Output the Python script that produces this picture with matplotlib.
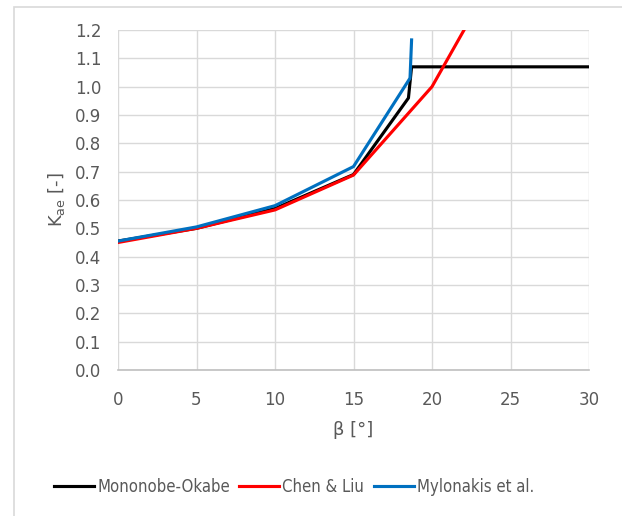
import matplotlib
matplotlib.use("Agg")
import matplotlib.pyplot as plt
from matplotlib.patches import Rectangle

# datos
beta_mo = [0, 5, 10, 15, 18.5, 18.7, 30]
kae_mo = [0.455, 0.50, 0.57, 0.69, 0.96, 1.07, 1.07]

beta_cl = [0, 5, 10, 15, 20, 25]
kae_cl = [0.45, 0.50, 0.565, 0.688, 1.0, 1.49]

beta_my = [0, 5, 10, 15, 18.6, 18.7]
kae_my = [0.455, 0.505, 0.58, 0.718, 1.03, 1.165]

gris = "#595959"
plt.rcParams['font.family'] = ['DejaVu Sans']

fig = plt.figure(figsize=(6.22, 5.16), dpi=100)
# marco exterior del grafico
fig.patches.append(Rectangle((14/622, -0.1), 1.0, (516-7)/516 + 0.1, transform=fig.transFigure,
                             fill=False, edgecolor="#D9D9D9", lw=1.2))
ax = fig.add_axes([118/622, 1-370/516, (589-118)/622, (370-30)/516])

ax.plot(beta_mo, kae_mo, color="black", lw=2.25, label="Mononobe-Okabe", zorder=3)
ax.plot(beta_cl, kae_cl, color="#FF0000", lw=2.25, label="Chen & Liu", zorder=3)
ax.plot(beta_my, kae_my, color="#0070C0", lw=2.25, label="Mylonakis et al.", zorder=3)

ax.set_xlim(0, 30)
ax.set_ylim(0, 1.2)
ax.set_xticks(range(0, 31, 5))
ax.set_yticks([i/10 for i in range(13)])
ax.set_yticklabels(["%.1f" % (i/10) for i in range(13)])
ax.grid(True, color="#D9D9D9", lw=1.0)
for s in ["top", "right", "left"]:
    ax.spines[s].set_visible(False)
ax.spines["bottom"].set_color("#BFBFBF")
ax.spines["bottom"].set_linewidth(1.2)
ax.tick_params(length=0, labelsize=12, labelcolor=gris)
ax.tick_params(axis="x", pad=15)
ax.tick_params(axis="y", pad=12)

ax.set_xlabel("β [°]", fontsize=13, color=gris, labelpad=9)
ax.set_ylabel("K$_{\\mathregular{ae}}$ [-]", fontsize=13, color=gris, labelpad=6)

ax.legend(loc="center", bbox_to_anchor=(294/622, (516-487)/516), bbox_transform=fig.transFigure,
          ncol=3, frameon=False, labelcolor=gris, handlelength=2.4,
          handletextpad=0.2, columnspacing=0.55, prop={'stretch': 'condensed', 'size': 12})

fig.savefig("out.png", dpi=100)
